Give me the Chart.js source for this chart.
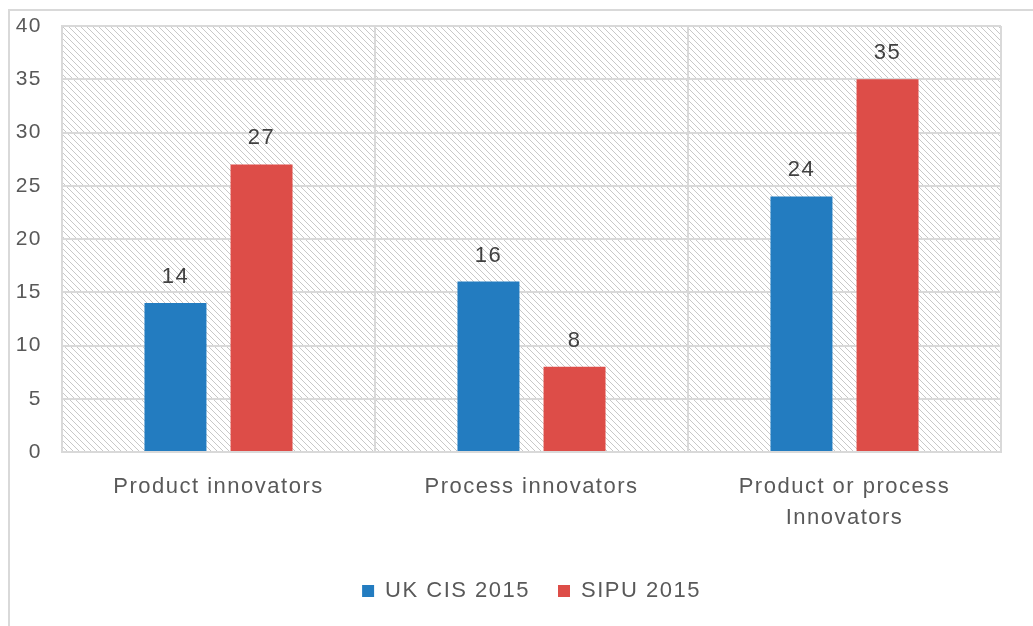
<!DOCTYPE html>
<html>
<head>
<meta charset="utf-8">
<script src="https://cdn.jsdelivr.net/npm/chart.js@4/dist/chart.umd.min.js"></script>
<style>
  html, body { margin: 0; padding: 0; background: #fff; }
  #frame {
    position: absolute; left: 8px; top: 9px; width: 1100px; height: 700px;
    border-left: 2px solid #d9d9d9; border-top: 2px solid #d9d9d9;
  }
  #wrap { position: absolute; left: 0; top: 0; width: 1033px; height: 626px; }
</style>
</head>
<body>
<div id="frame"></div>
<div id="wrap"><canvas id="chart" width="1033" height="626"></canvas></div>
<script>
const categories = ['Product innovators', 'Process innovators', ['Product or process', 'Innovators']];
const ukCis2015 = [14, 16, 24];
const sipu2015 = [27, 8, 35];
const yTicks = [0, 5, 10, 15, 20, 25, 30, 35, 40];

const textColor = '#595959';
const gridColor = '#d9d9d9';
const fontFamily = '"Liberation Sans", Arial, sans-serif';
const spacing = '1.5px';

function makeHatch() {
    const c = document.createElement('canvas');
    c.width = 6;
    c.height = 6;
    const g = c.getContext('2d');
    g.fillStyle = '#ffffff';
    g.fillRect(0, 0, 6, 6);
    g.strokeStyle = '#c8c8c8';
    g.lineWidth = 1;
    g.beginPath();
    g.moveTo(-1, -1);
    g.lineTo(7, 7);
    g.stroke();
    return c;
}

// the reference text is widely spaced, so stretch it a bit
const wideText = {
    id: 'wideText',
    beforeUpdate(chart) { chart.ctx.letterSpacing = spacing; },
    beforeDraw(chart) { chart.ctx.letterSpacing = spacing; },
    afterLayout(chart) {
        // legend in the reference sits a little right of the canvas centre
        chart.legend.left += 31;
        chart.legend.right += 31;
    }
};

const hatchBackground = {
    id: 'hatchBackground',
    beforeDraw(chart) {
        const { ctx, chartArea } = chart;
        ctx.save();
        ctx.fillStyle = ctx.createPattern(makeHatch(), 'repeat');
        ctx.fillRect(chartArea.left, chartArea.top, chartArea.right - chartArea.left, chartArea.bottom - chartArea.top);
        ctx.restore();
    }
};

const barLabels = {
    id: 'barLabels',
    afterDatasetsDraw(chart) {
        const ctx = chart.ctx;
        ctx.save();
        ctx.font = '22px ' + fontFamily;
        ctx.fillStyle = '#404040';
        ctx.textAlign = 'center';
        ctx.textBaseline = 'alphabetic';
        chart.data.datasets.forEach((ds, i) => {
            chart.getDatasetMeta(i).data.forEach((bar, j) => {
                ctx.fillText(String(ds.data[j]), bar.x, bar.y - 20);
            });
        });
        ctx.restore();
    }
};

const chart = new Chart(document.getElementById('chart'), {
    type: 'bar',
    data: {
        labels: categories,
        datasets: [
            {
                label: 'UK CIS 2015',
                data: ukCis2015,
                backgroundColor: '#237cc0',
                barPercentage: 0.72,
                categoryPercentage: 0.55
            },
            {
                label: 'SIPU 2015',
                data: sipu2015,
                backgroundColor: '#dd4d48',
                barPercentage: 0.72,
                categoryPercentage: 0.55
            }
        ]
    },
    options: {
        responsive: false,
        animation: false,
        layout: { padding: { top: 26, right: 32, bottom: 14, left: 0 } },
        plugins: {
            legend: {
                position: 'bottom',
                labels: {
                    boxWidth: 12,
                    boxHeight: 12,
                    padding: 28,
                    color: textColor,
                    font: { family: fontFamily, size: 22 }
                }
            },
            tooltip: { enabled: false }
        },
        scales: {
            x: {
                grid: { color: gridColor, lineWidth: 2, drawTicks: false },
                border: { color: gridColor, width: 2 },
                ticks: {
                    color: textColor,
                    padding: 20,
                    font: { family: fontFamily, size: 22, lineHeight: 1.4 },
                    maxRotation: 0
                },
                afterFit(scale) {
                    scale.height = 100;
                    scale.paddingLeft = 0;
                    scale.paddingRight = 0;
                }
            },
            y: {
                min: 0,
                max: 40,
                afterBuildTicks(scale) { scale.ticks = yTicks.map(v => ({ value: v })); },
                grid: { color: gridColor, lineWidth: 2, drawTicks: false },
                border: { color: gridColor, width: 2 },
                ticks: {
                    color: textColor,
                    padding: 20,
                    font: { family: fontFamily, size: 21 }
                },
                afterFit(scale) {
                    scale.width = 62;
                    scale.paddingTop = 0;
                    scale.paddingBottom = 0;
                }
            }
        }
    },
    plugins: [wideText, hatchBackground, barLabels]
});
</script>
</body>
</html>
